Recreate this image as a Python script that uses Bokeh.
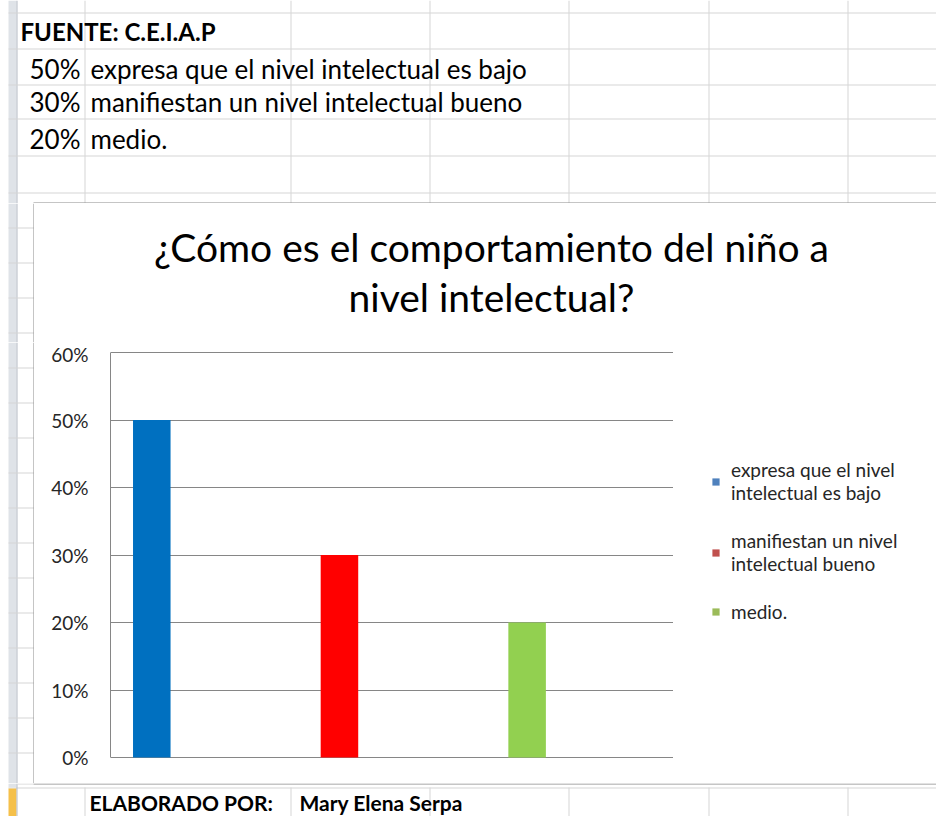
from bokeh.plotting import figure
from bokeh.layouts import column, row
from bokeh.models import (Legend, LegendItem, NumeralTickFormatter, FixedTicker,
                          Range1d, FactorRange, ColumnDataSource)
from bokeh.core.properties import value
from bokeh.transform import dodge
from bokeh.embed import file_html
from bokeh.resources import INLINE

# ---------------- data ----------------
source_label = ["FUENTE: C.E.I.A.P"]
table_pcts = ["50%", "30%", "20%"]
table_texts = ["expresa que el nivel intelectual es bajo",
               "manifiestan un nivel intelectual bueno",
               "medio."]
categories = ["expresa que el nivel intelectual es bajo",
              "manifiestan un nivel intelectual bueno",
              "medio."]
values = [0.50, 0.30, 0.20]
bar_colors = ["#0070C0", "#FF0000", "#92D050"]
legend_labels = ["expresa que el nivel\nintelectual es bajo",
                 "manifiestan un nivel\nintelectual bueno",
                 "medio."]
legend_colors = ["#4F81BD", "#C0504D", "#9BBB59"]
y_ticks = [0, 0.1, 0.2, 0.3, 0.4, 0.5, 0.6]
title_lines = ["¿Cómo es el comportamiento del niño a", "nivel intelectual?"]
footer_texts = ["ELABORADO POR:", "Mary Elena Serpa"]

# ---------------- layout constants (pixels) ----------------
FONT = "Lato"
W, H = 936, 816
TOP_H = 203          # spreadsheet rows above the chart box
SIDE_W = 34          # spreadsheet strip left of the chart box
TITLE_H = 139
CHART_H = 441
BOTTOM_H = H - TOP_H - TITLE_H - CHART_H
PLOT_RIGHT = 673     # right end of the plot area
PAD_TOP, PAD_BOTTOM = 10, 26
BAR_SHIFT = -0.28    # bars sit left of their category centre, as in the original
SHEET = "#d6d6d6"
STRIP = "#dfe3e8"
STRIP_EDGE = "#b4bac4"
BOX = "#8c8c8c"
COL_X = [84, 290, 429, 568, 708, 847]
ROW_Y_TOP = [12, 48, 84, 118, 155, 192]
ROW_Y_MID = list(range(227, 783, 35))
ROW_Y_BOTTOM = 787


def pixel_fig(w, h):
    f = figure(width=w, height=h, x_range=Range1d(0, w), y_range=Range1d(h, 0),
               x_axis_type=None, y_axis_type=None, min_border=0,
               output_backend="svg", toolbar_location=None)
    f.outline_line_color = None
    f.grid.visible = False
    f.background_fill_color = "white"
    f.border_fill_color = "white"
    return f


def rects(f, lefts, rights, tops, bottoms, color):
    f.quad(left=lefts, right=rights, top=tops, bottom=bottoms,
           fill_color=color, line_color=None)


def strip(f, h, y0):
    """row-header strip and row lines for a figure starting at page row y0"""
    rects(f, [8], [16], [0], [h], STRIP)
    rects(f, [16], [17], [0], [h], STRIP_EDGE)
    ys = [y - y0 for y in ROW_Y_MID if 0 <= y - y0 < h]
    if ys:
        rects(f, [8] * len(ys), [SIDE_W] * len(ys), ys, [y + 1 for y in ys], SHEET)


# ---------------- top spreadsheet area ----------------
top = pixel_fig(W, TOP_H)
rects(top, [8], [16], [0], [TOP_H], STRIP)
rects(top, [16], [17], [0], [TOP_H], STRIP_EDGE)
rects(top, [8] * len(ROW_Y_TOP), [W] * len(ROW_Y_TOP), ROW_Y_TOP,
      [y + 1 for y in ROW_Y_TOP], SHEET)
rects(top, COL_X, [x + 1 for x in COL_X], [0] * len(COL_X), [TOP_H] * len(COL_X), SHEET)
rects(top, [SIDE_W - 1], [W], [TOP_H - 1], [TOP_H], BOX)

top.text(x=[20], y=[31], text=source_label, text_font=value(FONT),
         text_font_style="bold", text_font_size="24px", text_color="black",
         text_baseline="middle")
row_mid = [68, 101, 138]
top.text(x=[80] * 3, y=row_mid, text=table_pcts, text_font=value(FONT),
         text_font_size="26px", text_color="black", text_align="right",
         text_baseline="middle")
top.text(x=[90] * 3, y=row_mid, text=table_texts, text_font=value(FONT),
         text_font_size="26px", text_color="black", text_align="left",
         text_baseline="middle")

# ---------------- strip beside the title ----------------
side1 = pixel_fig(SIDE_W, TITLE_H)
strip(side1, TITLE_H, TOP_H)
rects(side1, [SIDE_W - 1], [SIDE_W], [0], [TITLE_H], BOX)

# ---------------- chart title ----------------
ttl = pixel_fig(W - SIDE_W, TITLE_H)
ttl.text(x=[457, 457], y=[43, 93], text=title_lines, text_font=value(FONT),
         text_font_size="39px", text_color="black", text_align="center",
         text_baseline="middle")

# ---------------- strip beside the chart ----------------
side2 = pixel_fig(SIDE_W, CHART_H)
strip(side2, CHART_H, TOP_H + TITLE_H)
rects(side2, [SIDE_W - 1], [SIDE_W], [0], [CHART_H], BOX)

# ---------------- bar chart ----------------
y_max = max(y_ticks)
ppu = (CHART_H - PAD_TOP - PAD_BOTTOM) / y_max
p = figure(width=PLOT_RIGHT - SIDE_W, height=CHART_H,
           x_range=FactorRange(factors=categories, range_padding=0),
           y_range=Range1d(-PAD_BOTTOM / ppu, y_max + PAD_TOP / ppu),
           output_backend="svg", toolbar_location=None,
           min_border_left=110 - SIDE_W, min_border_right=0,
           min_border_top=0, min_border_bottom=0)
p.outline_line_color = None
p.background_fill_color = "white"
p.border_fill_color = "white"

src = ColumnDataSource(dict(cat=categories, val=values, color=bar_colors))
p.vbar(x=dodge("cat", BAR_SHIFT, range=p.x_range), top="val", width=0.2, source=src,
       fill_color="color", line_color=None)

p.xaxis.visible = False
p.xgrid.grid_line_color = None
p.ygrid.ticker = FixedTicker(ticks=y_ticks)
p.ygrid.grid_line_color = "#868686"
p.ygrid.grid_line_width = 1
yax = p.yaxis[0]
yax.bounds = (0, y_max)
yax.ticker = FixedTicker(ticks=y_ticks)
yax.formatter = NumeralTickFormatter(format="0%")
yax.axis_line_color = "#868686"
yax.major_tick_line_color = None
yax.minor_tick_line_color = None
yax.major_tick_out = 0
yax.major_label_standoff = 22
yax.major_label_text_font = FONT
yax.major_label_text_font_size = "19px"
yax.major_label_text_color = "#262626"

# ---------------- legend panel ----------------
LEG_W = W - PLOT_RIGHT
leg = figure(width=LEG_W, height=CHART_H,
             x_range=FactorRange(factors=categories), y_range=Range1d(0, y_max),
             x_axis_type=None, y_axis_type=None, min_border=0,
             output_backend="svg", toolbar_location=None)
leg.outline_line_color = None
leg.grid.visible = False
leg.background_fill_color = "white"
leg.border_fill_color = "white"
items = []
for cat, v, lab, col in zip(categories, values, legend_labels, legend_colors):
    r = leg.vbar(x=[cat], top=[v], width=0.2, fill_color=col, line_color=None, visible=False)
    items.append(LegendItem(label=lab, renderers=[r]))
legend = Legend(items=items, location=(38, 160), orientation="vertical",
                glyph_width=9, glyph_height=9, label_standoff=11, spacing=25,
                padding=0, margin=0, label_text_font=FONT, label_text_font_size="19px",
                label_text_color="#262626",
                background_fill_alpha=0, border_line_color=None, click_policy="none")
leg.add_layout(legend)

# ---------------- bottom spreadsheet row ----------------
bot = pixel_fig(W, BOTTOM_H)
ry = ROW_Y_BOTTOM - (H - BOTTOM_H)
rects(bot, [SIDE_W - 1], [W], [0], [1], BOX)
rects(bot, [8], [W], [ry], [ry + 1], SHEET)
rects(bot, COL_X, [x + 1 for x in COL_X], [ry] * len(COL_X), [BOTTOM_H] * len(COL_X), SHEET)
rects(bot, [8], [16], [0], [ry], STRIP)
rects(bot, [8], [16], [ry + 1], [BOTTOM_H], "#f5c04a")
rects(bot, [16], [17], [0], [BOTTOM_H], STRIP_EDGE)
rects(bot, [17], [SIDE_W - 1], [0], [1], SHEET)
bot.text(x=[89, 299], y=[19, 19], text=footer_texts, text_font=value(FONT),
         text_font_style="bold", text_font_size="21px", text_color="black",
         text_baseline="middle")

layout = column(top, row(side1, ttl, spacing=0), row(side2, p, leg, spacing=0),
                bot, spacing=0)
open("out.html", "w").write(file_html(layout, INLINE))
